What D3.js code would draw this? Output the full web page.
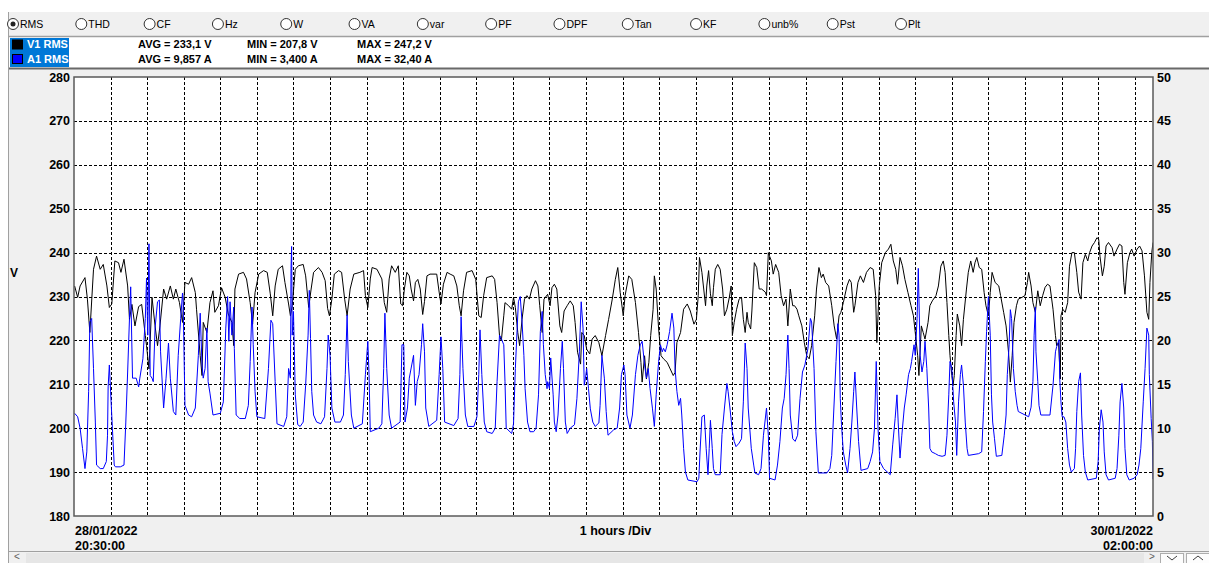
<!DOCTYPE html>
<html><head><meta charset="utf-8">
<script src="https://cdn.jsdelivr.net/npm/d3@7"></script>
<style>
html,body{margin:0;padding:0;background:#fff;overflow:hidden}
svg{display:block}
text{font-family:"Liberation Sans",Arial,sans-serif}
</style></head>
<body>
<svg id="c" width="1209" height="563"></svg>
<script>
// ---------- DATA ----------
const startTime = "2022-01-28T20:30:00";
const spanMinutes = 1770; // 29.5 hours
const radioLabels = ["RMS","THD","CF","Hz","W","VA","var","PF","DPF","Tan","KF","unb%","Pst","Plt"];
const seriesNames = ["V1 RMS","A1 RMS"];
const seriesColors = ["#000000","#0000ff"];
const statsV = ["AVG = 233,1 V","MIN = 207,8 V","MAX = 247,2 V"];
const statsA = ["AVG = 9,857 A","MIN = 3,400 A","MAX = 32,40 A"];
const leftTicks = [180,190,200,210,220,230,240,250,260,270,280];
const rightTicks = [0,5,10,15,20,25,30,35,40,45,50];
const xCaption = "1 hours /Div";
const leftUnit = "V";

// V1 RMS: minutes from start, volts
const tV = [1,6,10,18,22,26,32,37,43,48,54,58,62,67,73,77,82,88,91,95,100,106,111,117,119,123,128,133,137,141,147,152,158,163,167,173,178,182,188,193,199,201,207,210,212,218,223,228,231,237,242,248,253,259,262,264,270,278,283,289,293,297,303,311,317,322,326,330,335,342,346,352,355,
358,363,368,376,380,385,389,393,401,407,412,416,419,423,427,434,439,444,448,453,459,469,475,478,482,486,489,497,505,509,513,517,521,527,532,536,539,542,546,550,553,557,560,564,568,572,575,579,584,595,599,602,606,612,617,623,628,632,635,639,644,653,659,664,668,672,677,686,690,694,698,701,705,707,
713,718,721,724,728,731,735,739,743,747,751,757,761,764,768,771,777,781,784,788,792,797,800,804,809,814,819,822,826,831,833,837,841,846,850,855,861,866,872,877,883,888,892,896,901,904,910,915,921,926,930,932,936,939,943,946,950,952,955,959,963,967,973,978,983,986,989,995,1000,1006,1011,1017,1021,1024,1026,1030,1036,1038,1041,1044,1047,1049,1052,1056,1060,
1064,1067,1071,1075,1078,1080,1083,1087,1091,1095,1098,1101,1104,1106,1110,1112,1116,1120,1124,1128,1134,1136,1139,1141,1144,1147,1151,1156,1160,1164,1168,1171,1175,1179,1182,1186,1189,1194,1198,1202,1206,1210,1215,1218,1222,1226,1229,1233,1238,1243,1247,1251,1255,1258,1262,1268,1272,1275,1279,1281,1286,1290,1295,1300,1306,1311,1315,1317,1321,1325,1331,1336,1340,1344,1348,1351,1355,1359,1363,1368,1373,1377,1380,1384,1386,1390,1393,1396,1401,1404,1408,
1414,1418,1422,1426,1429,1432,1435,1437,1440,1442,1444,1447,1449,1453,1456,1459,1464,1467,1471,1475,1478,1481,1485,1489,1493,1496,1500,1503,1506,1511,1517,1520,1525,1529,1533,1536,1539,1542,1546,1549,1555,1560,1564,1566,1570,1573,1577,1581,1585,1589,1593,1597,1601,1606,1610,1612,1615,1618,1619,1622,1626,1630,1633,1637,1641,1645,1648,1652,1655,1659,1663,1666,1670,1674,1678,1681,1683,1687,1690,1693,1697,1703,1706,1711,1715,1719,1722,1724,1728,1732,1735,1739,1744,1748,1752,1756,1760,1763,1765,1768,1770];
const vV = [232.4,229.8,232.4,234.3,229.4,221.8,236.2,239.2,236.2,237.3,232.4,227.5,228.3,238.1,237.7,235.5,238.5,232.4,224.8,228.2,223.3,227.7,228.2,221.1,218.8,213.5,229.8,223.3,218.8,223.3,231.7,229.4,232.4,229.4,231.7,228.6,224.1,233.2,232.8,234.3,230.9,227.1,216.5,212,224.1,221.8,228.6,231.3,226.4,227.9,232,229.8,226,224.1,218.8,231.7,235.1,235.5,234,228.6,223.7,230.9,235.1,235.9,235.5,230.6,225.6,232.4,236.2,237,233.2,228.3,225.6,
227.9,236.2,237,237.3,234.7,227.5,231.7,235.5,236.6,235.5,233.6,227.3,225.6,229.4,235.1,235.9,235.5,229.4,225.6,231.7,235.1,235.5,235.9,230.2,227.5,234,236.6,236.2,234,228.6,226.4,234,237,235.5,237,228.3,227.9,231.7,235.5,234.7,231.7,229,233.2,233.9,231.7,225.9,228.9,234.7,235.1,235.1,231,228.3,232.8,235.5,235.1,234.7,232.4,227.9,225.6,231.3,235.5,235.9,233.9,225.6,225.2,230.2,234.3,234.7,233.9,228.6,221.1,219.9,225.6,228.6,
227.9,227.1,229.8,227.5,221.8,218.8,224.8,229.4,230.2,229.4,231.7,233.6,232.4,227.9,221.8,229.4,230.5,227.9,232,232.8,231.7,223.3,221.8,226.7,227.9,229,227.9,224.1,217.3,214.6,221.8,221.1,218,216.9,220.3,221.1,219.5,216.5,221.1,224.8,229.4,233.9,236.6,230.9,225.6,230.2,234.7,233.9,228.6,221.8,215,210.5,216.5,211.2,215,221.1,227.1,234.7,231.7,222.6,216.5,215.8,215,213.5,212,212.7,219.5,221.8,227.1,228.3,226.7,223.7,224.8,230.2,238.9,235.5,227.9,232.4,235.9,230.6,227.9,232,236.2,237.3,236.2,
231.7,225.6,227.1,229.8,232.4,221.1,224.1,227.1,229.4,229.8,224.8,221.8,226.4,224.1,222.6,226.7,237.7,236.6,231.7,231.7,231,230.2,240,239.2,238.1,235.1,237.3,235.5,230.2,227.9,229.4,223.3,231.7,227.9,227.9,227.1,225.6,223.3,219.5,216.5,215.8,218.8,225.6,231.7,236.6,234.3,235.1,233.2,232.4,227.9,223.3,220.3,225.6,226.4,228.6,232.4,233.9,233.2,226.4,227.9,233.2,234.7,233.2,235.5,236.6,236.2,230.2,219.5,232.4,237.7,240,240.8,241.9,238.1,236.2,232.8,238.9,237,233.9,230.9,227.9,225.6,221.8,216.5,212,223.3,221.8,220.3,224.1,227.9,229,
230.2,232.4,236.9,238.1,235.5,228.6,221.1,216.5,212,209.7,212,221.1,226,223.3,218.8,224.8,231.7,235.5,238.1,235.5,237.7,238.9,236.6,236.2,230.9,227.9,225.6,230.9,235.5,233.2,232.4,230.2,226.4,223.3,217.3,210.5,216.5,224.1,227.9,229.4,229.8,230.2,233.2,235.5,232.4,228.6,226.4,231.3,227.9,230.2,232.1,232.8,232.4,227.1,221.1,218.8,219.5,211.2,225.6,227.1,226.4,228.6,236.9,240,240,235.5,231,229.4,237.7,239.6,238.1,240,241.5,242.3,243.4,243,239.2,234.7,236.9,241.5,242.3,241.1,239.2,240.8,241.9,241.5,233.2,230.5,237.7,239.9,240.8,239.2,240.8,241.5,240.4,234.7,226.4,224.8,233.2,240,242.3];

// A1 RMS: minutes from start, amperes
const tA = [1,6,10,14,18,21,24,26,29,32,35,37,43,48,53,55,56,58,60,63,66,68,76,82,85,88,91,93,96,102,106,108,113,117,119,121,123,125,128,130,133,137,140,142,147,151,155,158,163,167,171,175,178,179,182,188,193,199,204,207,210,212,215,218,220,223,228,240,245,249,252,254,256,259,262,263,266,272,281,286,289,292,294,297,300,313,319,323,326,330,333,344,349,352,355,
356,357,358,360,363,367,371,376,380,384,386,388,390,393,398,405,411,415,417,420,423,428,437,442,445,448,450,455,459,473,478,482,484,486,500,505,508,510,513,517,521,535,538,541,543,547,550,554,557,560,563,566,570,572,575,577,582,595,599,602,605,608,623,630,633,635,638,642,646,656,661,664,666,669,673,677,686,691,694,698,701,705,707,
709,718,721,724,727,729,732,735,738,740,744,748,754,758,762,765,768,770,773,776,777,780,782,786,788,791,794,798,801,803,806,809,814,821,825,829,832,835,837,839,841,844,847,851,855,861,863,866,870,873,876,885,891,895,898,902,904,907,912,916,921,925,929,932,936,939,942,945,949,952,955,959,962,965,967,970,973,977,981,984,986,989,992,995,997,1000,1003,1007,1022,1025,1027,1030,1034,1037,1040,1042,1044,1047,1049,1052,1060,
1063,1067,1071,1073,1076,1080,1083,1086,1091,1095,1098,1101,1104,1106,1111,1115,1117,1123,1127,1131,1136,1139,1141,1150,1154,1158,1162,1165,1168,1171,1173,1175,1179,1183,1187,1191,1195,1199,1204,1208,1210,1214,1217,1221,1235,1240,1243,1246,1250,1253,1255,1257,1259,1262,1266,1269,1273,1276,1279,1281,1284,1287,1291,1302,1306,1310,1313,1316,1319,1322,1328,1339,1343,1347,1350,1352,1355,1358,1362,1365,1369,1372,1374,1378,1380,1383,1385,1388,1391,1394,1396,1399,1402,1404,1407,1413,
1418,1424,1429,1432,1435,1437,1440,1443,1446,1448,1451,1454,1456,1459,1462,1465,1467,1484,1489,1492,1495,1497,1500,1503,1505,1507,1510,1513,1522,1526,1529,1531,1534,1536,1538,1541,1544,1547,1549,1566,1570,1573,1575,1577,1578,1581,1583,1586,1601,1606,1610,1612,1616,1617,1619,1621,1624,1627,1630,1633,1636,1641,1643,1645,1648,1651,1653,1656,1659,1663,1677,1680,1682,1685,1688,1690,1693,1697,1708,1711,1714,1716,1719,1722,1724,1727,1731,1739,1744,1747,1750,1754,1757,1760,1763,1764,1767,1769,1770];
const vA = [11.7,11.3,10,7.7,5.4,7.3,14.2,22.1,22.5,16.8,10.7,5.8,5.4,5.4,6.2,9.2,14.7,17.2,14.2,10,5.8,5.6,5.6,5.8,10.7,16.4,22.5,26.1,15.7,15.7,14.7,15.7,17.9,22.5,27.1,20.6,31,16,15.7,15.3,21.4,24.4,24.6,18.7,12.3,15.7,19.7,15.7,11.9,11.5,18.3,22.5,25.4,24.4,12.6,11.5,11.3,12.3,18.3,23.1,17.2,15.7,16.8,21.4,15.3,14,11.5,11.7,13,21.4,25,19.9,24.4,20.6,23.8,19.1,11.5,11.1,11.1,12.6,17.6,23.8,19.5,14.2,11.3,11.1,16.8,22.3,21.9,15.3,10.5,10.2,11.3,16.8,15.7,
28.2,30.7,20.6,23.3,13.8,10.4,10.2,10.7,14.9,20.6,25.7,20.2,14.2,11.5,10.7,10.5,11.3,16.8,20.6,18.3,12.3,10.7,10.7,11.5,16.1,22.9,17.6,11.5,10,10.5,16.1,19.9,16.1,9.6,10,10.5,16.8,23.1,16.8,11.5,10,10.7,19.5,19.5,10.7,12.3,15.7,17.2,18.3,12.6,15.3,16.1,19.5,21.9,18.7,12.3,10.2,10.9,16.1,20.4,16.8,10.7,10.3,11.1,16.1,22.7,16.8,11.5,10.2,10.2,11.3,16.1,21.2,16.1,10.7,9.6,9.4,10,15.3,20.6,20.2,19.5,15.3,
10,9.4,10.5,16.8,21.4,24.4,25,22.1,18.3,14.5,10.7,9.6,9.6,10,13.8,21,23.3,19.5,16.1,14.5,15.3,14.5,18,13.8,10.7,9.6,11.5,16.8,19.9,16.8,10.7,9.4,10,10.4,13.4,18.7,24.4,21.4,14.9,15.7,16.8,14.5,12.2,10.7,10.2,10.6,12.6,18.3,15.7,11.9,9.2,9.8,10,12.3,16.1,17.2,16.1,11.5,10,11.5,16.1,18.3,19.5,19.9,17.2,15.7,16.8,14.5,12.2,10.2,13.8,17.6,19.5,18.7,19.1,18.7,19.5,21,23.1,21.4,16.8,14.2,12.6,13.4,11.5,7.7,5,4.1,3.9,4.3,7.4,11.3,11.5,7.7,4.7,7.7,10.9,7.7,5.4,4.7,4.7,
9.3,12.3,15.1,14.2,12.3,9.6,8.5,7.9,8.3,8.8,13,19.7,16.8,12.3,7.7,5.8,4.9,4.7,5.4,9.2,12.3,9.2,4.3,4.1,5.8,8.5,12.3,13.4,16.1,20.6,16.8,11.5,8.8,8.5,9.2,13.4,16.4,17.2,19.1,22.5,22.1,16.8,9.6,4.9,4.9,5.4,6.9,11.5,17.6,21.9,20.6,13.4,10.4,7.3,5.8,4.9,7.7,10.7,14.2,16.4,12.3,8.5,5.2,5.4,6.2,7.3,9.9,17.6,9.9,6.2,5.4,4.7,8.1,11.1,13.8,10.7,6.6,9.2,12.3,13.8,16.1,16.8,17.6,19.5,18.3,22.5,28.2,18.3,16.4,17.6,19.9,16.8,12.3,7.7,7.3,7.1,
6.9,6.8,6.9,9.2,13.8,17.6,16.8,13,10.7,6.9,13,16.1,17.2,14.9,10.7,7.7,6.9,7.1,7.3,11.9,17.6,21,25,20.6,13.8,10.7,8.8,6.8,6.9,9.2,11.5,16.1,19.5,23.5,22.5,16.8,14.2,12.6,11.9,11.3,12.4,15.3,20.6,23.8,18.7,15.3,12.6,11.5,11.5,14.9,18.7,19.3,20.1,15.7,13,11.3,11.3,10.7,7.7,5.8,5,5.4,7.7,11.9,15.3,16.3,11.5,6.9,5,4.1,4.3,6.2,9.9,12.1,10.7,7.3,4.7,4.1,4.3,5.4,9.2,13,15.1,12.3,7.7,4.7,4.1,4.3,4.7,5.8,7.7,13,16.8,21.4,20.6,16.1,11.1,8.5,4.2];

// ---------- DRAW ----------
const svg = d3.select("#c");
const W = 1209, H = 563;
const plot = {l:74, r:1153, t:77, b:516};
const t0 = new Date(startTime);
const toDate = m => new Date(t0.getTime() + m*60000);
const t1 = toDate(spanMinutes);

const x = d3.scaleTime().domain([t0, t1]).range([plot.l, plot.r]);
const yV = d3.scaleLinear().domain([180, 280]).range([plot.b, plot.t]);
const yA = d3.scaleLinear().domain([0, 50]).range([plot.b, plot.t]);

// background pieces
svg.append("rect").attr("x",0).attr("y",0).attr("width",W).attr("height",H).attr("fill","#ffffff");
svg.append("rect").attr("x",8).attr("y",12).attr("width",W-8).attr("height",24).attr("fill","#f0f0f0");
svg.append("line").attr("x1",8).attr("x2",W).attr("y1",36.5).attr("y2",36.5).attr("stroke","#a0a0a0").attr("stroke-width",1.5);
svg.append("rect").attr("x",8).attr("y",69).attr("width",W-8).attr("height",482).attr("fill","#f0f0f0");
svg.append("line").attr("x1",8).attr("x2",W).attr("y1",68.5).attr("y2",68.5).attr("stroke","#696969").attr("stroke-width",2);
svg.append("line").attr("x1",8).attr("x2",W).attr("y1",551.5).attr("y2",551.5).attr("stroke","#a0a0a0").attr("stroke-width",1);
svg.append("line").attr("x1",8.5).attr("x2",8.5).attr("y1",12).attr("y2",H).attr("stroke","#a0a0a0").attr("stroke-width",1);

// scroll bar
svg.append("rect").attr("x",9).attr("y",552).attr("width",W-9).attr("height",11).attr("fill","#f0f0f0");
svg.append("rect").attr("x",26).attr("y",553).attr("width",1118).attr("height",10).attr("fill","#e6e6e6");
svg.append("text").attr("x",17).attr("y",560).attr("text-anchor","middle").attr("font-size",10).attr("fill","#606060").text("<");
svg.append("text").attr("x",1152).attr("y",560).attr("text-anchor","middle").attr("font-size",10).attr("fill","#606060").text(">");
[1160,1186].forEach((bx,i)=>{
  svg.append("rect").attr("x",bx+0.5).attr("y",553.5).attr("width",23).attr("height",12).attr("fill","#fdfdfd").attr("stroke","#adadad");
  const cy = 558, cx = bx+12;
  svg.append("path").attr("d", i===0 ? `M${cx-5},${cy-2}L${cx},${cy+2}L${cx+5},${cy-2}` : `M${cx-5},${cy+2}L${cx},${cy-2}L${cx+5},${cy+2}`)
    .attr("fill","none").attr("stroke","#404040");
});

// radio row
const radioX = d3.scaleLinear().domain([0,13]).range([13, 901]);
const radios = svg.append("g").selectAll("g").data(radioLabels).join("g")
  .attr("transform",(d,i)=>`translate(${radioX(i)},24)`);
radios.append("circle").attr("r",5.5).attr("fill","#fff").attr("stroke","#333").attr("stroke-width",1);
radios.filter((d,i)=>i===0).append("circle").attr("r",2.5).attr("fill","#222");
radios.append("text").attr("x",7).attr("dy","0.35em").attr("font-size",10.5).attr("fill","#000").text(d=>d);

// legend
svg.append("rect").attr("x",10).attr("y",38).attr("width",59).attr("height",29).attr("fill","#0078d7");
const legRows = [{name:seriesNames[0], color:seriesColors[0], stats:statsV, y:44.5},
                 {name:seriesNames[1], color:seriesColors[1], stats:statsA, y:59}];
legRows.forEach(r=>{
  svg.append("rect").attr("x",12.5).attr("y",r.y-4.5).attr("width",10).attr("height",9).attr("fill",r.color).attr("stroke","#000").attr("stroke-width",1);
  svg.append("text").attr("x",27).attr("y",r.y).attr("dy","0.35em").attr("font-size",11).attr("font-weight","bold").attr("fill","#fff").text(r.name);
  [138,247,357].forEach((sx,j)=>{
    svg.append("text").attr("x",sx).attr("y",r.y).attr("dy","0.35em").attr("font-size",11).attr("font-weight","bold").attr("fill","#000").text(r.stats[j]);
  });
});

// plot area
svg.append("rect").attr("x",plot.l).attr("y",plot.t).attr("width",plot.r-plot.l).attr("height",plot.b-plot.t).attr("fill","#fff");

// gridlines
const hours = d3.range(1, Math.floor(spanMinutes/60)+1).map(h => d3.timeHour.offset(t0, h));
const grid = svg.append("g").attr("stroke","#000").attr("stroke-width",1).attr("stroke-dasharray","3,2").attr("shape-rendering","crispEdges");
grid.selectAll("line.v").data(hours).join("line").attr("class","v")
  .attr("x1",d=>Math.round(x(d))+0.5).attr("x2",d=>Math.round(x(d))+0.5).attr("y1",plot.t).attr("y2",plot.b);
grid.selectAll("line.h").data(leftTicks.slice(1,-1)).join("line").attr("class","h")
  .attr("x1",plot.l).attr("x2",plot.r).attr("y1",d=>Math.round(yV(d))+0.5).attr("y2",d=>Math.round(yV(d))+0.5);

// series
const clip = svg.append("clipPath").attr("id","pc").append("rect")
  .attr("x",plot.l).attr("y",plot.t).attr("width",plot.r-plot.l).attr("height",plot.b-plot.t);
const dataV = tV.map((m,i)=>({t:toDate(m), v:vV[i]}));
const dataA = tA.map((m,i)=>({t:toDate(m), v:vA[i]}));
const lineV = d3.line().x(d=>x(d.t)).y(d=>yV(d.v));
const lineA = d3.line().x(d=>x(d.t)).y(d=>yA(d.v));
const lines = svg.append("g").attr("clip-path","url(#pc)");
lines.append("path").datum(dataV).attr("d",lineV).attr("fill","none").attr("stroke",seriesColors[0]).attr("stroke-width",1);
lines.append("path").datum(dataA).attr("d",lineA).attr("fill","none").attr("stroke",seriesColors[1]).attr("stroke-width",1);

// border
svg.append("rect").attr("x",plot.l).attr("y",plot.t).attr("width",plot.r-plot.l).attr("height",plot.b-plot.t)
  .attr("fill","none").attr("stroke","#5a5a5a").attr("stroke-width",1.5);

// axes
const axL = svg.append("g").attr("transform",`translate(${plot.l},0)`)
  .call(d3.axisLeft(yV).tickValues(leftTicks).tickSize(0).tickPadding(4).tickFormat(d3.format("d")));
const axR = svg.append("g").attr("transform",`translate(${plot.r},0)`)
  .call(d3.axisRight(yA).tickValues(rightTicks).tickSize(0).tickPadding(4).tickFormat(d3.format("d")));
[axL,axR].forEach(a=>{
  a.select(".domain").remove();
  a.selectAll("text").attr("font-family","Liberation Sans, Arial, sans-serif").attr("font-size",12.5).attr("font-weight","bold").attr("fill","#000");
});

svg.append("text").attr("x",10).attr("y",273).attr("dy","0.35em").attr("font-size",12).attr("font-weight","bold").text(leftUnit);

// bottom labels
const fDate = d3.timeFormat("%d/%m/%Y"), fTime = d3.timeFormat("%H:%M:%S");
const lab = (tx, anchor, d) => {
  svg.append("text").attr("x",tx).attr("y",531).attr("dy","0.35em").attr("text-anchor",anchor).attr("font-size",12.5).attr("font-weight","bold").text(fDate(d));
  svg.append("text").attr("x",tx).attr("y",546).attr("dy","0.35em").attr("text-anchor",anchor).attr("font-size",12.5).attr("font-weight","bold").text(fTime(d));
};
lab(x(t0)+1, "start", t0);
lab(x(t1), "end", t1);
svg.append("text").attr("x",(plot.l+plot.r)/2+2).attr("y",531).attr("dy","0.35em").attr("text-anchor","middle")
  .attr("font-size",12.5).attr("font-weight","bold").text(xCaption);
</script>
</body></html>
